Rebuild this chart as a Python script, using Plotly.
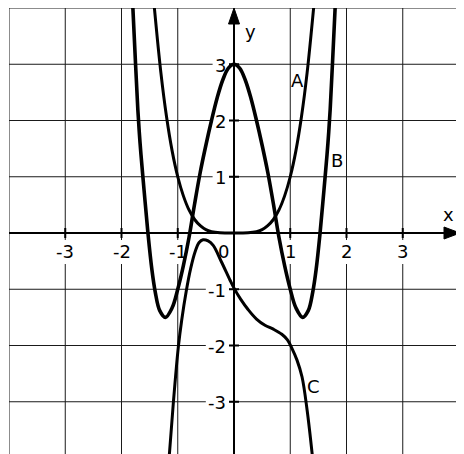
import plotly.graph_objects as go

# ---- data ----
# Curve A (flat near origin)
a_x = [-1.42, -1.30, -1.20, -1.10, -1.00, -0.90, -0.80, -0.70, -0.60, -0.50, -0.40, -0.25, 0.0,
       0.25, 0.40, 0.50, 0.60, 0.70, 0.80, 0.90, 1.00, 1.10, 1.20, 1.30, 1.42]
a_y = [4.05, 2.85, 2.07, 1.46, 1.00, 0.66, 0.41, 0.24, 0.13, 0.06, 0.025, 0.005, 0.0,
       0.005, 0.025, 0.06, 0.13, 0.24, 0.41, 0.66, 1.00, 1.46, 2.07, 2.85, 4.05]

# Curve B (W shape, max 3 at 0)
b_x = [-1.80, -1.75, -1.71, -1.67, -1.62, -1.58, -1.53, -1.46, -1.40, -1.32, -1.22, -1.10, -1.00,
       -0.90, -0.80, -0.70, -0.60, -0.50, -0.40, -0.30, -0.20, -0.10, 0.0,
       0.10, 0.20, 0.30, 0.40, 0.50, 0.60, 0.70, 0.80, 0.90, 1.00, 1.10, 1.22, 1.32, 1.40,
       1.46, 1.53, 1.58, 1.62, 1.67, 1.71, 1.75, 1.80]
b_y = [4.05, 3.00, 2.20, 1.60, 1.00, 0.55, 0.00, -0.65, -1.05, -1.38, -1.50, -1.33, -1.00,
       -0.58, -0.08, 0.52, 1.08, 1.56, 2.00, 2.40, 2.72, 2.93, 3.00,
       2.93, 2.72, 2.40, 2.00, 1.56, 1.08, 0.52, -0.08, -0.58, -1.00, -1.33, -1.50, -1.38, -1.05,
       -0.65, 0.00, 0.55, 1.00, 1.60, 2.20, 3.00, 4.05]

# Curve C
c_x = [-1.15, -1.08, -0.99, -0.93, -0.85, -0.77, -0.69, -0.62, -0.55, -0.46, -0.37, -0.22, -0.07,
       0.0, 0.12, 0.25, 0.40, 0.55, 0.70, 0.85, 0.95, 1.03, 1.12, 1.21, 1.30, 1.39]
c_y = [-3.95, -3.04, -2.03, -1.55, -1.04, -0.63, -0.33, -0.17, -0.12, -0.14, -0.22, -0.52, -0.84,
       -0.98, -1.18, -1.36, -1.53, -1.64, -1.71, -1.80, -1.90, -2.05, -2.26, -2.56, -3.15, -3.93]

x_ticks = [-3, -2, -1, 0, 1, 2, 3]
x_tick_labels = ["-3", "-2", "-1", "0", "1", "2", "3"]
y_ticks = [-3, -2, -1, 1, 2, 3]
y_tick_labels = ["-3", "-2", "-1", "1", "2", "3"]
grid_vals = [-4, -3, -2, -1, 0, 1, 2, 3, 4]
curve_labels = ["A", "B", "C"]

# ---- geometry helpers (reference pixel -> data) ----
W, H = 464, 454
BODY = 8          # default page body margin offsets the figure
PX = 56.25
X0, Y0 = 234.0, 233.0


def X(px):
    return (px - X0) / PX


def Y(py):
    return (Y0 - py) / PX


YMIN = Y(H)
FONT = dict(family="DejaVu Sans", size=18, color="black")

fig = go.Figure()

shapes = []
# grid
for g in grid_vals:
    shapes.append(dict(type="line", xref="x", yref="y", x0=g, x1=g, y0=YMIN - 0.1, y1=4,
                       line=dict(color="#1a1a1a", width=1), layer="below"))
    if g > YMIN:
        shapes.append(dict(type="line", xref="x", yref="y", x0=-4, x1=4, y0=g, y1=g,
                           line=dict(color="#1a1a1a", width=1), layer="below"))

# white label boxes
CW = 11.4  # digit width px
HW = 6.8   # hyphen width px
for t, lab in zip(x_ticks, x_tick_labels):
    w = sum(HW if ch == "-" else CW for ch in lab) + 6
    cx = X0 + t * PX if t != 0 else 223
    shapes.append(dict(type="rect", xref="x", yref="y", x0=X(cx - w / 2), x1=X(cx + w / 2),
                       y0=Y(264), y1=Y(240), fillcolor="white", line=dict(width=0), layer="below"))
for t, lab in zip(y_ticks, y_tick_labels):
    w = sum(HW if ch == "-" else CW for ch in lab) + 5
    cy = Y0 - t * PX
    shapes.append(dict(type="rect", xref="x", yref="y", x0=X(229 - w), x1=X(229),
                       y0=Y(cy + 11), y1=Y(cy - 11), fillcolor="white", line=dict(width=0), layer="below"))

# axes
shapes.append(dict(type="line", xref="x", yref="y", x0=-4, x1=X(448), y0=0, y1=0,
                   line=dict(color="black", width=2), layer="below"))
shapes.append(dict(type="line", xref="x", yref="y", x0=0, x1=0, y0=YMIN - 0.1, y1=Y(20),
                   line=dict(color="black", width=2), layer="below"))
# ticks
for t in x_ticks:
    if t != 0:
        shapes.append(dict(type="line", xref="x", yref="y", x0=t, x1=t, y0=Y(Y0 + 5), y1=Y(Y0 - 5),
                           line=dict(color="black", width=2), layer="below"))
for t in y_ticks:
    shapes.append(dict(type="line", xref="x", yref="y", x0=X(X0 - 5), x1=X(X0 + 5), y0=t, y1=t,
                       line=dict(color="black", width=2), layer="below"))
# arrowheads
shapes.append(dict(type="path", xref="x", yref="y",
                   path=f"M {X(444)} {Y(Y0-6)} L {X(460)} 0 L {X(444)} {Y(Y0+6)} Z",
                   fillcolor="black", line=dict(color="black", width=1)))
shapes.append(dict(type="path", xref="x", yref="y",
                   path=f"M {X(X0-5.5)} {Y(24)} L 0 {Y(8)} L {X(X0+5.5)} {Y(24)} Z",
                   fillcolor="black", line=dict(color="black", width=1)))

fig.add_trace(go.Scatter(x=a_x, y=a_y, mode="lines", line=dict(color="black", width=3, shape="spline"),
                         hoverinfo="skip", showlegend=False))
fig.add_trace(go.Scatter(x=b_x, y=b_y, mode="lines", line=dict(color="black", width=3.6, shape="spline"),
                         hoverinfo="skip", showlegend=False))
fig.add_trace(go.Scatter(x=c_x, y=c_y, mode="lines", line=dict(color="black", width=3, shape="spline"),
                         hoverinfo="skip", showlegend=False))

ann = []
for t, lab in zip(x_ticks, x_tick_labels):
    cx = X0 + t * PX if t != 0 else 223
    ann.append(dict(x=X(cx), y=Y(251), text=lab, showarrow=False, xanchor="center", yanchor="middle",
                    font=FONT, xref="x", yref="y"))
for t, lab in zip(y_ticks, y_tick_labels):
    ann.append(dict(x=X(228), y=t, text=lab, showarrow=False, xanchor="right", yanchor="middle",
                    font=FONT, xref="x", yref="y", yshift=-1))
label_pos = [(297, 80), (337, 160), (313, 386)]
for lab, (px, py) in zip(curve_labels, label_pos):
    ann.append(dict(x=X(px), y=Y(py), text=lab, showarrow=False, xanchor="center", yanchor="middle",
                    font=FONT, xref="x", yref="y"))
ann.append(dict(x=X(448), y=Y(214), text="x", showarrow=False, xanchor="center", yanchor="middle",
                font=FONT, xref="x", yref="y"))
ann.append(dict(x=X(250), y=Y(31), text="y", showarrow=False, xanchor="center", yanchor="middle",
                font=FONT, xref="x", yref="y"))

# plot area spans reference pixels x 9..459, y 8..454; figure sits BODY px in from the page corner
fig.update_layout(
    width=W - BODY, height=H - BODY,
    margin=dict(l=9 - BODY, r=(W - BODY) - (459 - BODY), t=8 - BODY, b=0),
    paper_bgcolor="white", plot_bgcolor="white",
    xaxis=dict(range=[-4, 4], visible=False, fixedrange=True),
    yaxis=dict(range=[YMIN, 4], visible=False, fixedrange=True),
    shapes=shapes, annotations=ann, showlegend=False,
)

fig.write_html("out.html")
